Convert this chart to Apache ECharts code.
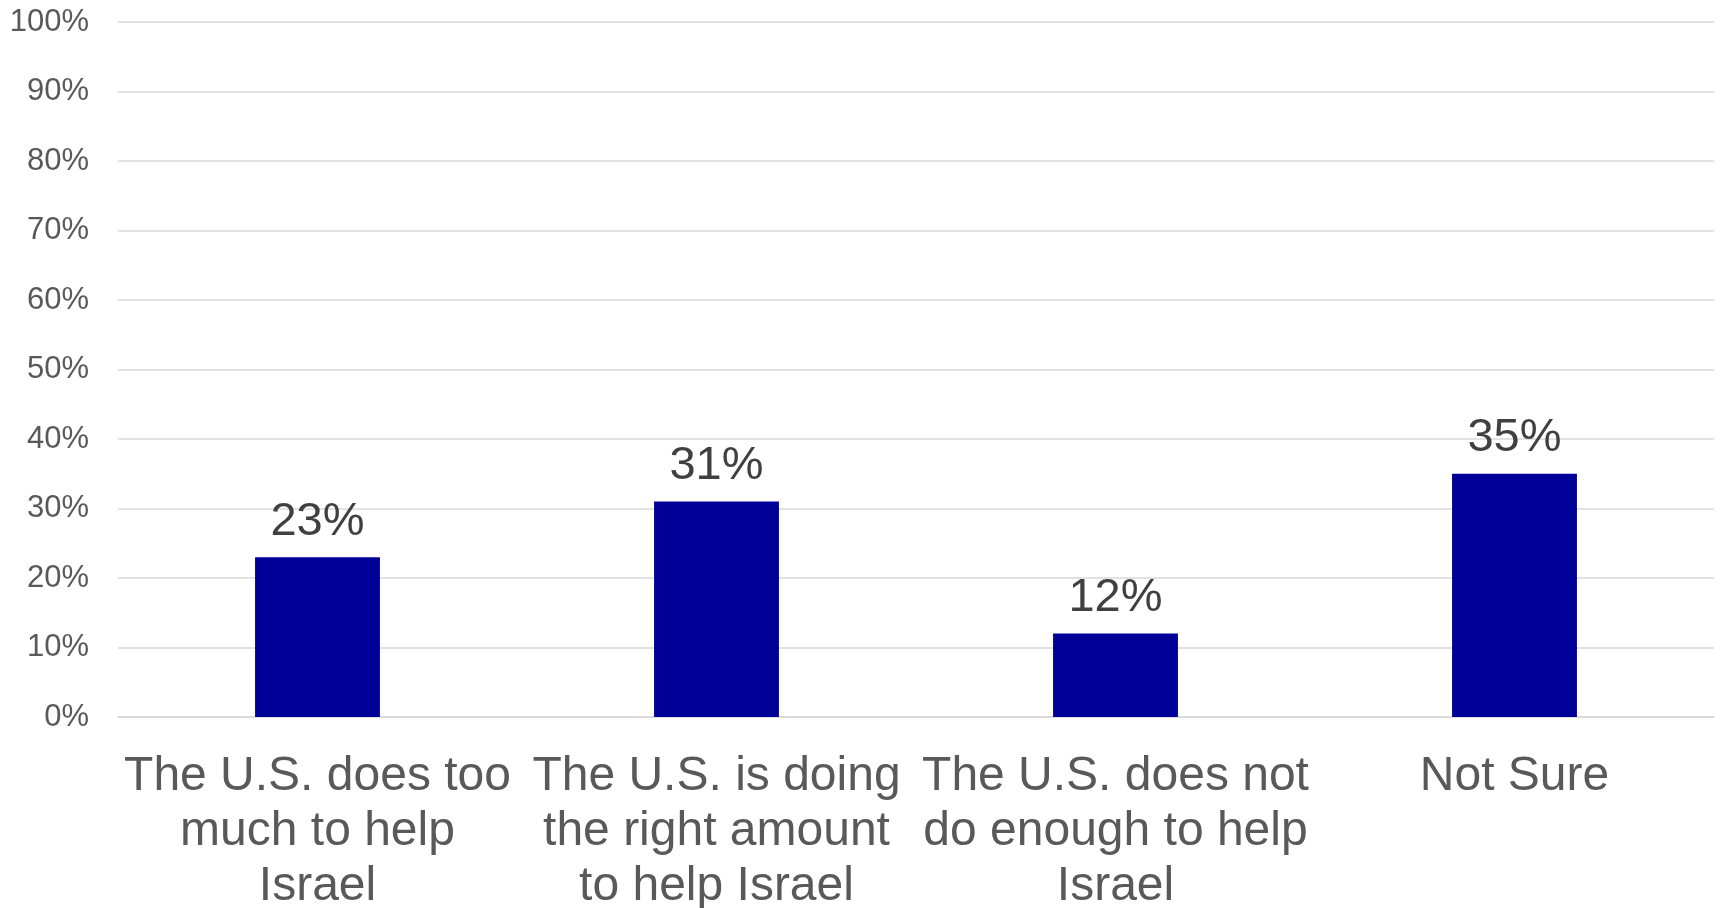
<!DOCTYPE html>
<html>
<head>
<meta charset="utf-8">
<script src="https://cdn.jsdelivr.net/npm/echarts@6/dist/echarts.min.js"></script>
<style>
html,body{margin:0;padding:0;background:#fff;}
#chart{width:1725px;height:908px;}
</style>
</head>
<body>
<div id="chart"></div>
<script>
const categories = [
  "The U.S. does too\nmuch to help\nIsrael",
  "The U.S. is doing\nthe right amount\nto help Israel",
  "The U.S. does not\ndo enough to help\nIsrael",
  "Not Sure"
];
const values = [23, 31, 12, 35];
const yTicks = [0, 10, 20, 30, 40, 50, 60, 70, 80, 90, 100];

const chart = echarts.init(document.getElementById('chart'));
chart.setOption({
  animation: false,
  backgroundColor: '#ffffff',
  grid: { left: 118, right: 11, top: 22, bottom: 191, containLabel: false, outerBoundsMode: 'none' },
  xAxis: {
    type: 'category',
    data: categories,
    axisLine: { show: true, lineStyle: { color: '#d9d9d9', width: 1.5 } },
    axisTick: { show: false },
    axisLabel: {
      interval: 0,
      margin: 32,
      fontFamily: 'Liberation Sans, Arial, sans-serif',
      fontSize: 48,
      lineHeight: 55,
      color: '#595959',
      align: 'center'
    }
  },
  yAxis: {
    type: 'value',
    min: yTicks[0],
    max: yTicks[yTicks.length - 1],
    interval: 10,
    axisLine: { show: false },
    axisTick: { show: false },
    splitLine: { lineStyle: { color: '#d9d9d9', width: 1.5 } },
    axisLabel: {
      margin: 29,
      fontFamily: 'Liberation Sans, Arial, sans-serif',
      fontSize: 31,
      color: '#595959',
      formatter: v => v + '%'
    }
  },
  series: [{
    type: 'bar',
    data: values,
    barWidth: '31.3%',
    itemStyle: { color: '#000099' },
    label: {
      show: true,
      position: 'top',
      distance: 12,
      fontFamily: 'Liberation Sans, Arial, sans-serif',
      fontSize: 47,
      color: '#404040',
      formatter: p => p.value + '%'
    }
  }]
});
</script>
</body>
</html>
